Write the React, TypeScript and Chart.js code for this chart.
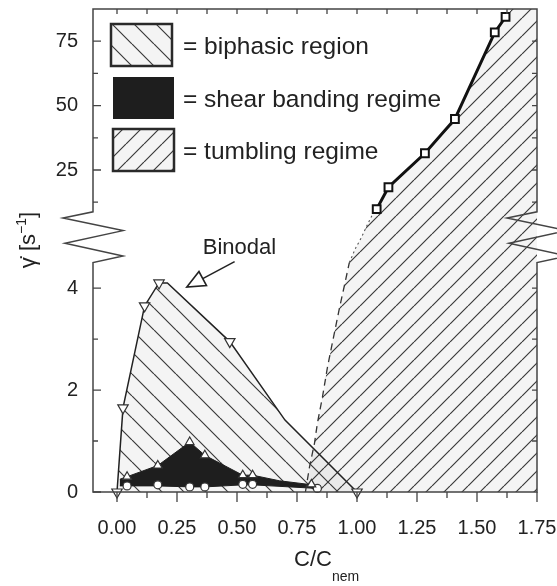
import React, { useEffect, useRef } from 'react';
import { Chart, registerables, LinearScale } from 'chart.js';

// ---------------- data ----------------
const xMin = -0.1;
const xMax = 1.75;
const xMajorTicks = [0, 0.25, 0.5, 0.75, 1.0, 1.25, 1.5, 1.75];
const xMinorTicks = [0.125, 0.375, 0.625, 0.875, 1.125, 1.375, 1.625];

const yLowMax = 4.5;
const yHighMin = 8.75;
const yMax = 87.5;
const yLabelTicks = [0, 2, 4, 25, 50, 75];
const yMinorTicks = [1, 3, 12.5, 37.5, 62.5];
const yRightTicks = [1, 2, 3, 4, 12.5, 25, 37.5, 50, 62.5, 75];

// binodal (open down-triangles)
const binX = [0, 0.025, 0.115, 0.175, 0.21, 0.47, 0.7, 1.0];
const binY = [0, 1.65, 3.65, 4.1, 4.1, 2.95, 1.41, 0];
const binMarkX = [0, 0.025, 0.115, 0.175, 0.47, 1.0];
const binMarkY = [0, 1.65, 3.65, 4.1, 2.95, 0];

// shear banding regime (black area)
const sbUpX = [0.012, 0.042, 0.17, 0.303, 0.366, 0.524, 0.565, 0.677, 0.85];
const sbUpY = [0.25, 0.3, 0.52, 0.98, 0.72, 0.33, 0.33, 0.22, 0.12];
const sbLowX = [0.85, 0.835, 0.565, 0.524, 0.366, 0.303, 0.17, 0.042, 0.012];
const sbLowY = [0.12, 0.07, 0.14, 0.14, 0.1, 0.1, 0.12, 0.12, 0.12];
const sbUpMarkX = [0.042, 0.17, 0.303, 0.366, 0.524, 0.565, 0.81];
const sbUpMarkY = [0.3, 0.52, 0.98, 0.72, 0.33, 0.33, 0.15];
const sbLowMarkX = [0.042, 0.17, 0.303, 0.366, 0.524, 0.565, 0.835];
const sbLowMarkY = [0.12, 0.14, 0.1, 0.1, 0.15, 0.15, 0.07];

// tumbling regime boundary
const tumbDashX = [0.785, 0.802, 0.823, 0.835, 0.856, 0.877, 0.898, 0.927, 0.948, 0.968];
const tumbDashY = [0, 0.49, 0.96, 1.35, 1.86, 2.45, 2.94, 3.61, 4.06, 4.5];
const tumbGapX = [0.968, 0.995, 1.018, 1.043, 1.064, 1.082];
const tumbGapY = [4.5, 5.75, 6.58, 7.67, 8.5, 9.8];
const tumbSqX = [1.082, 1.131, 1.283, 1.408, 1.574, 1.619];
const tumbSqY = [9.8, 18.3, 31.5, 44.8, 78.4, 84.4];
const tumbEdgeX = [1.645, 1.75, 1.75];
const tumbEdgeY = [87.5, 87.5, 0];

// annotation (data coordinates)
const binodalLabel = { text: 'Binodal', x: 0.51, y: 5.75 };
const arrowTail = { x: 0.49, y: 4.58 };
const arrowTip = { x: 0.291, y: 4.02 };

const legendLabels = ['= biphasic region', '= shear banding regime', '= tumbling regime'];

// ---------------- broken y scale ----------------
const SEGS = [
  { v0: 0, v1: yLowMax, f0: 0, f1: 0.475 },
  { v0: yLowMax, v1: yHighMin, f0: 0.475, f1: 0.58 },
  { v0: yHighMin, v1: yMax, f0: 0.58, f1: 1 },
];
function v2f(v: number): number {
  let s = SEGS[0];
  for (const seg of SEGS) {
    s = seg;
    if (v <= seg.v1) break;
  }
  return s.f0 + ((v - s.v0) / (s.v1 - s.v0)) * (s.f1 - s.f0);
}
function f2v(f: number): number {
  let s = SEGS[0];
  for (const seg of SEGS) {
    s = seg;
    if (f <= seg.f1) break;
  }
  return s.v0 + ((f - s.f0) / (s.f1 - s.f0)) * (s.v1 - s.v0);
}

class BrokenScale extends LinearScale {
  static id = 'broken';
  buildTicks() {
    return yLabelTicks.map((v) => ({ value: v }));
  }
  getPixelForValue(value: number) {
    const f = v2f(value);
    return this.bottom - f * (this.bottom - this.top);
  }
  getValueForPixel(pixel: number) {
    return f2v((this.bottom - pixel) / (this.bottom - this.top));
  }
}

Chart.register(...registerables, BrokenScale as any);

const FONT = "'Liberation Sans', Arial, Helvetica, sans-serif";
const W = 557;
const H = 586;

function pts(xs: number[], ys: number[]) {
  return xs.map((x, i) => ({ x, y: ys[i] }));
}

function makeHatch(dir: 'fwd' | 'back', s: number): CanvasPattern {
  const c = document.createElement('canvas');
  c.width = s;
  c.height = s;
  const g = c.getContext('2d')!;
  g.fillStyle = 'rgba(0,0,0,0.045)';
  g.fillRect(0, 0, s, s);
  g.strokeStyle = '#3a3a3a';
  g.lineWidth = 1.2;
  g.beginPath();
  for (let k = -1; k <= 1; k++) {
    if (dir === 'fwd') {
      g.moveTo(k * s, s);
      g.lineTo(k * s + s, 0);
    } else {
      g.moveTo(k * s, 0);
      g.lineTo(k * s + s, s);
    }
  }
  g.stroke();
  return g.createPattern(c, 'repeat')!;
}

export default function App() {
  const ref = useRef<HTMLCanvasElement>(null);

  useEffect(() => {
    const canvas = ref.current!;
    const hatchBack = makeHatch('back', 22);
    const hatchFwd = makeHatch('fwd', 18);

    const decor = {
      id: 'decor',
      afterDraw(chart: any) {
        const ctx: CanvasRenderingContext2D = chart.ctx;
        const xs = chart.scales.x;
        const ys = chart.scales.y;
        const L = xs.left;
        const R = xs.right;
        const T = ys.getPixelForValue(yMax);
        const B = ys.getPixelForValue(0);
        const gT = ys.getPixelForValue(yHighMin);
        const gB = ys.getPixelForValue(yLowMax);
        const h = gB - gT;
        const zz = (x0: number) => [
          [x0 - 30, gT + 0.12 * h],
          [x0 + 30, gT + 0.37 * h],
          [x0 - 28, gT + 0.62 * h],
          [x0 + 30, gT + 0.87 * h],
        ];
        ctx.save();
        // frame with breaks
        ctx.strokeStyle = '#444';
        ctx.lineWidth = 1.5;
        ctx.lineJoin = 'miter';
        ctx.beginPath();
        ctx.moveTo(L, gT);
        ctx.lineTo(L, T);
        ctx.lineTo(R, T);
        ctx.lineTo(R, gT);
        for (const p of zz(R)) ctx.lineTo(p[0], p[1]);
        ctx.lineTo(R, gB);
        ctx.lineTo(R, B);
        ctx.lineTo(L, B);
        ctx.lineTo(L, gB);
        for (const p of zz(L).reverse()) ctx.lineTo(p[0], p[1]);
        ctx.closePath();
        ctx.stroke();

        // ticks
        ctx.lineWidth = 1.3;
        ctx.beginPath();
        for (const v of yLabelTicks) {
          const y = ys.getPixelForValue(v);
          ctx.moveTo(L, y);
          ctx.lineTo(L + 8, y);
        }
        for (const v of yMinorTicks) {
          const y = ys.getPixelForValue(v);
          ctx.moveTo(L, y);
          ctx.lineTo(L + 5, y);
        }
        for (const v of yRightTicks) {
          const y = ys.getPixelForValue(v);
          ctx.moveTo(R, y);
          ctx.lineTo(R - 5, y);
        }
        for (const v of [...xMajorTicks, ...xMinorTicks]) {
          if (v >= xMax) continue;
          const x = xs.getPixelForValue(v);
          ctx.moveTo(x, T);
          ctx.lineTo(x, T + 5);
        }
        for (const v of xMajorTicks) {
          const x = xs.getPixelForValue(v);
          ctx.moveTo(x, B);
          ctx.lineTo(x, B + 10);
        }
        for (const v of xMinorTicks) {
          const x = xs.getPixelForValue(v);
          ctx.moveTo(x, B);
          ctx.lineTo(x, B + 6);
        }
        ctx.stroke();

        // legend
        const boxes = [
          { y: 24, fill: hatchBack as any, border: true },
          { y: 77, fill: '#1e1e1e', border: false },
          { y: 129, fill: hatchFwd as any, border: true },
        ];
        boxes.forEach((b, i) => {
          const bx = i === 0 ? 111 : 113;
          ctx.fillStyle = '#fff';
          ctx.fillRect(bx, b.y, 61, 42);
          ctx.fillStyle = b.fill;
          ctx.fillRect(bx, b.y, 61, 42);
          if (b.border) {
            ctx.strokeStyle = '#2a2a2a';
            ctx.lineWidth = 2.5;
            ctx.strokeRect(bx, b.y, 61, 42);
          }
          ctx.fillStyle = '#222';
          ctx.font = `24.5px ${FONT}`;
          ctx.textAlign = 'left';
          ctx.textBaseline = 'middle';
          ctx.fillText(legendLabels[i], 183, b.y + 23);
        });

        // Binodal label and arrow
        ctx.fillStyle = '#222';
        ctx.font = `22px ${FONT}`;
        ctx.textAlign = 'center';
        ctx.textBaseline = 'middle';
        ctx.fillText(binodalLabel.text, xs.getPixelForValue(binodalLabel.x), ys.getPixelForValue(binodalLabel.y));
        const tx = xs.getPixelForValue(arrowTail.x);
        const ty = ys.getPixelForValue(arrowTail.y);
        const px = xs.getPixelForValue(arrowTip.x);
        const py = ys.getPixelForValue(arrowTip.y);
        const dx = px - tx;
        const dy = py - ty;
        const len = Math.hypot(dx, dy);
        const ux = dx / len;
        const uy = dy / len;
        const hl = 18;
        const hw = 8;
        const bxp = px - ux * hl;
        const byp = py - uy * hl;
        ctx.strokeStyle = '#222';
        ctx.lineWidth = 1.6;
        ctx.beginPath();
        ctx.moveTo(tx, ty);
        ctx.lineTo(bxp, byp);
        ctx.stroke();
        ctx.beginPath();
        ctx.moveTo(px, py);
        ctx.lineTo(bxp - uy * hw, byp + ux * hw);
        ctx.lineTo(bxp + uy * hw, byp - ux * hw);
        ctx.closePath();
        ctx.fillStyle = '#fff';
        ctx.fill();
        ctx.stroke();

        // axis titles
        ctx.fillStyle = '#222';
        ctx.textAlign = 'left';
        ctx.textBaseline = 'middle';
        ctx.font = `22px ${FONT}`;
        ctx.fillText('C/C', 294, 560);
        ctx.font = `14px ${FONT}`;
        ctx.fillText('nem', 332, 577);

        ctx.save();
        ctx.translate(29, 240);
        ctx.rotate(-Math.PI / 2);
        const big = `22px ${FONT}`;
        const small = `14px ${FONT}`;
        const p1 = '\u03B3\u0307 [s';
        const p2 = '\u22121';
        const p3 = ']';
        ctx.font = big;
        const w1 = ctx.measureText(p1).width;
        const w3 = ctx.measureText(p3).width;
        ctx.font = small;
        const w2 = ctx.measureText(p2).width;
        let cx = -(w1 + w2 + w3) / 2;
        ctx.font = big;
        ctx.fillText(p1, cx, 0);
        cx += w1;
        ctx.font = small;
        ctx.fillText(p2, cx, -7);
        cx += w2;
        ctx.font = big;
        ctx.fillText(p3, cx, 0);
        ctx.restore();

        ctx.restore();
      },
    };

    const tumbPoly = pts(
      [...tumbDashX, ...tumbGapX.slice(1), ...tumbSqX.slice(1), ...tumbEdgeX],
      [...tumbDashY, ...tumbGapY.slice(1), ...tumbSqY.slice(1), ...tumbEdgeY]
    );
    const sbPoly = pts([...sbUpX, ...sbLowX], [...sbUpY, ...sbLowY]);

    const marker = {
      showLine: false,
      pointBackgroundColor: '#fff',
      pointBorderColor: '#333',
      pointBorderWidth: 1.2,
      clip: false as any,
      order: 1,
    };

    const chart = new Chart(canvas, {
      type: 'line',
      data: {
        datasets: [
          {
            data: tumbPoly,
            fill: 'shape',
            backgroundColor: hatchFwd as any,
            borderWidth: 0,
            pointRadius: 0,
            order: 10,
          } as any,
          {
            data: pts(binX, binY),
            fill: 'shape',
            backgroundColor: hatchBack as any,
            borderColor: '#222',
            borderWidth: 1.5,
            pointRadius: 0,
            order: 9,
          },
          {
            data: sbPoly,
            fill: 'shape',
            backgroundColor: '#1e1e1e',
            borderColor: '#1e1e1e',
            borderWidth: 1,
            pointRadius: 0,
            order: 8,
          },
          {
            data: pts(tumbDashX, tumbDashY),
            borderColor: '#333',
            borderWidth: 1.3,
            borderDash: [7, 5],
            pointRadius: 0,
            order: 6,
          },
          {
            data: pts(tumbGapX, tumbGapY),
            borderColor: '#555',
            borderWidth: 1.1,
            borderDash: [2, 3],
            pointRadius: 0,
            order: 6,
          },
          {
            data: pts(tumbSqX, tumbSqY),
            borderColor: '#111',
            borderWidth: 3,
            pointStyle: 'rect',
            pointRadius: 5.5,
            pointBackgroundColor: '#fff',
            pointBorderColor: '#111',
            pointBorderWidth: 2,
            clip: false as any,
            order: 2,
          },
          {
            ...marker,
            data: pts(binMarkX, binMarkY),
            pointStyle: 'triangle',
            rotation: 180,
            pointRadius: 6,
          },
          {
            ...marker,
            data: pts(sbUpMarkX, sbUpMarkY),
            pointStyle: 'triangle',
            pointRadius: 5,
          },
          {
            ...marker,
            data: pts(sbLowMarkX, sbLowMarkY),
            pointStyle: 'circle',
            pointRadius: 4,
          },
        ],
      },
      options: {
        responsive: false,
        animation: false,
        events: [],
        layout: { padding: { top: 9, right: 20, left: 0, bottom: 0 } },
        plugins: { legend: { display: false }, tooltip: { enabled: false } },
        elements: { line: { tension: 0 } },
        scales: {
          x: {
            type: 'linear',
            min: xMin,
            max: xMax,
            grid: { display: false, drawTicks: false },
            border: { display: false },
            afterBuildTicks: (axis: any) => {
              axis.ticks = xMajorTicks.map((v) => ({ value: v }));
            },
            afterFit: (axis: any) => {
              axis.height = 94;
              axis.paddingLeft = 0;
              axis.paddingRight = 0;
            },
            ticks: {
              autoSkip: false,
              maxRotation: 0,
              padding: 24,
              color: '#222',
              font: { family: FONT, size: 20 },
              callback: (v: any) => Number(v).toFixed(2),
            },
          },
          y: {
            type: 'broken' as any,
            min: 0,
            max: yMax,
            position: 'left',
            grid: { display: false, drawTicks: false },
            border: { display: false },
            afterFit: (axis: any) => {
              axis.width = 93;
              axis.paddingTop = 0;
              axis.paddingBottom = 0;
            },
            ticks: {
              autoSkip: false,
              padding: 15,
              color: '#222',
              font: { family: FONT, size: 20 },
              callback: (v: any) => String(v),
            },
          } as any,
        },
      },
      plugins: [decor],
    });

    return () => chart.destroy();
  }, []);

  return (
    <div style={{ position: 'absolute', left: 0, top: 0, width: W, height: H, background: '#fff' }}>
      <canvas ref={ref} width={W} height={H} style={{ display: 'block', width: W, height: H }} />
    </div>
  );
}
